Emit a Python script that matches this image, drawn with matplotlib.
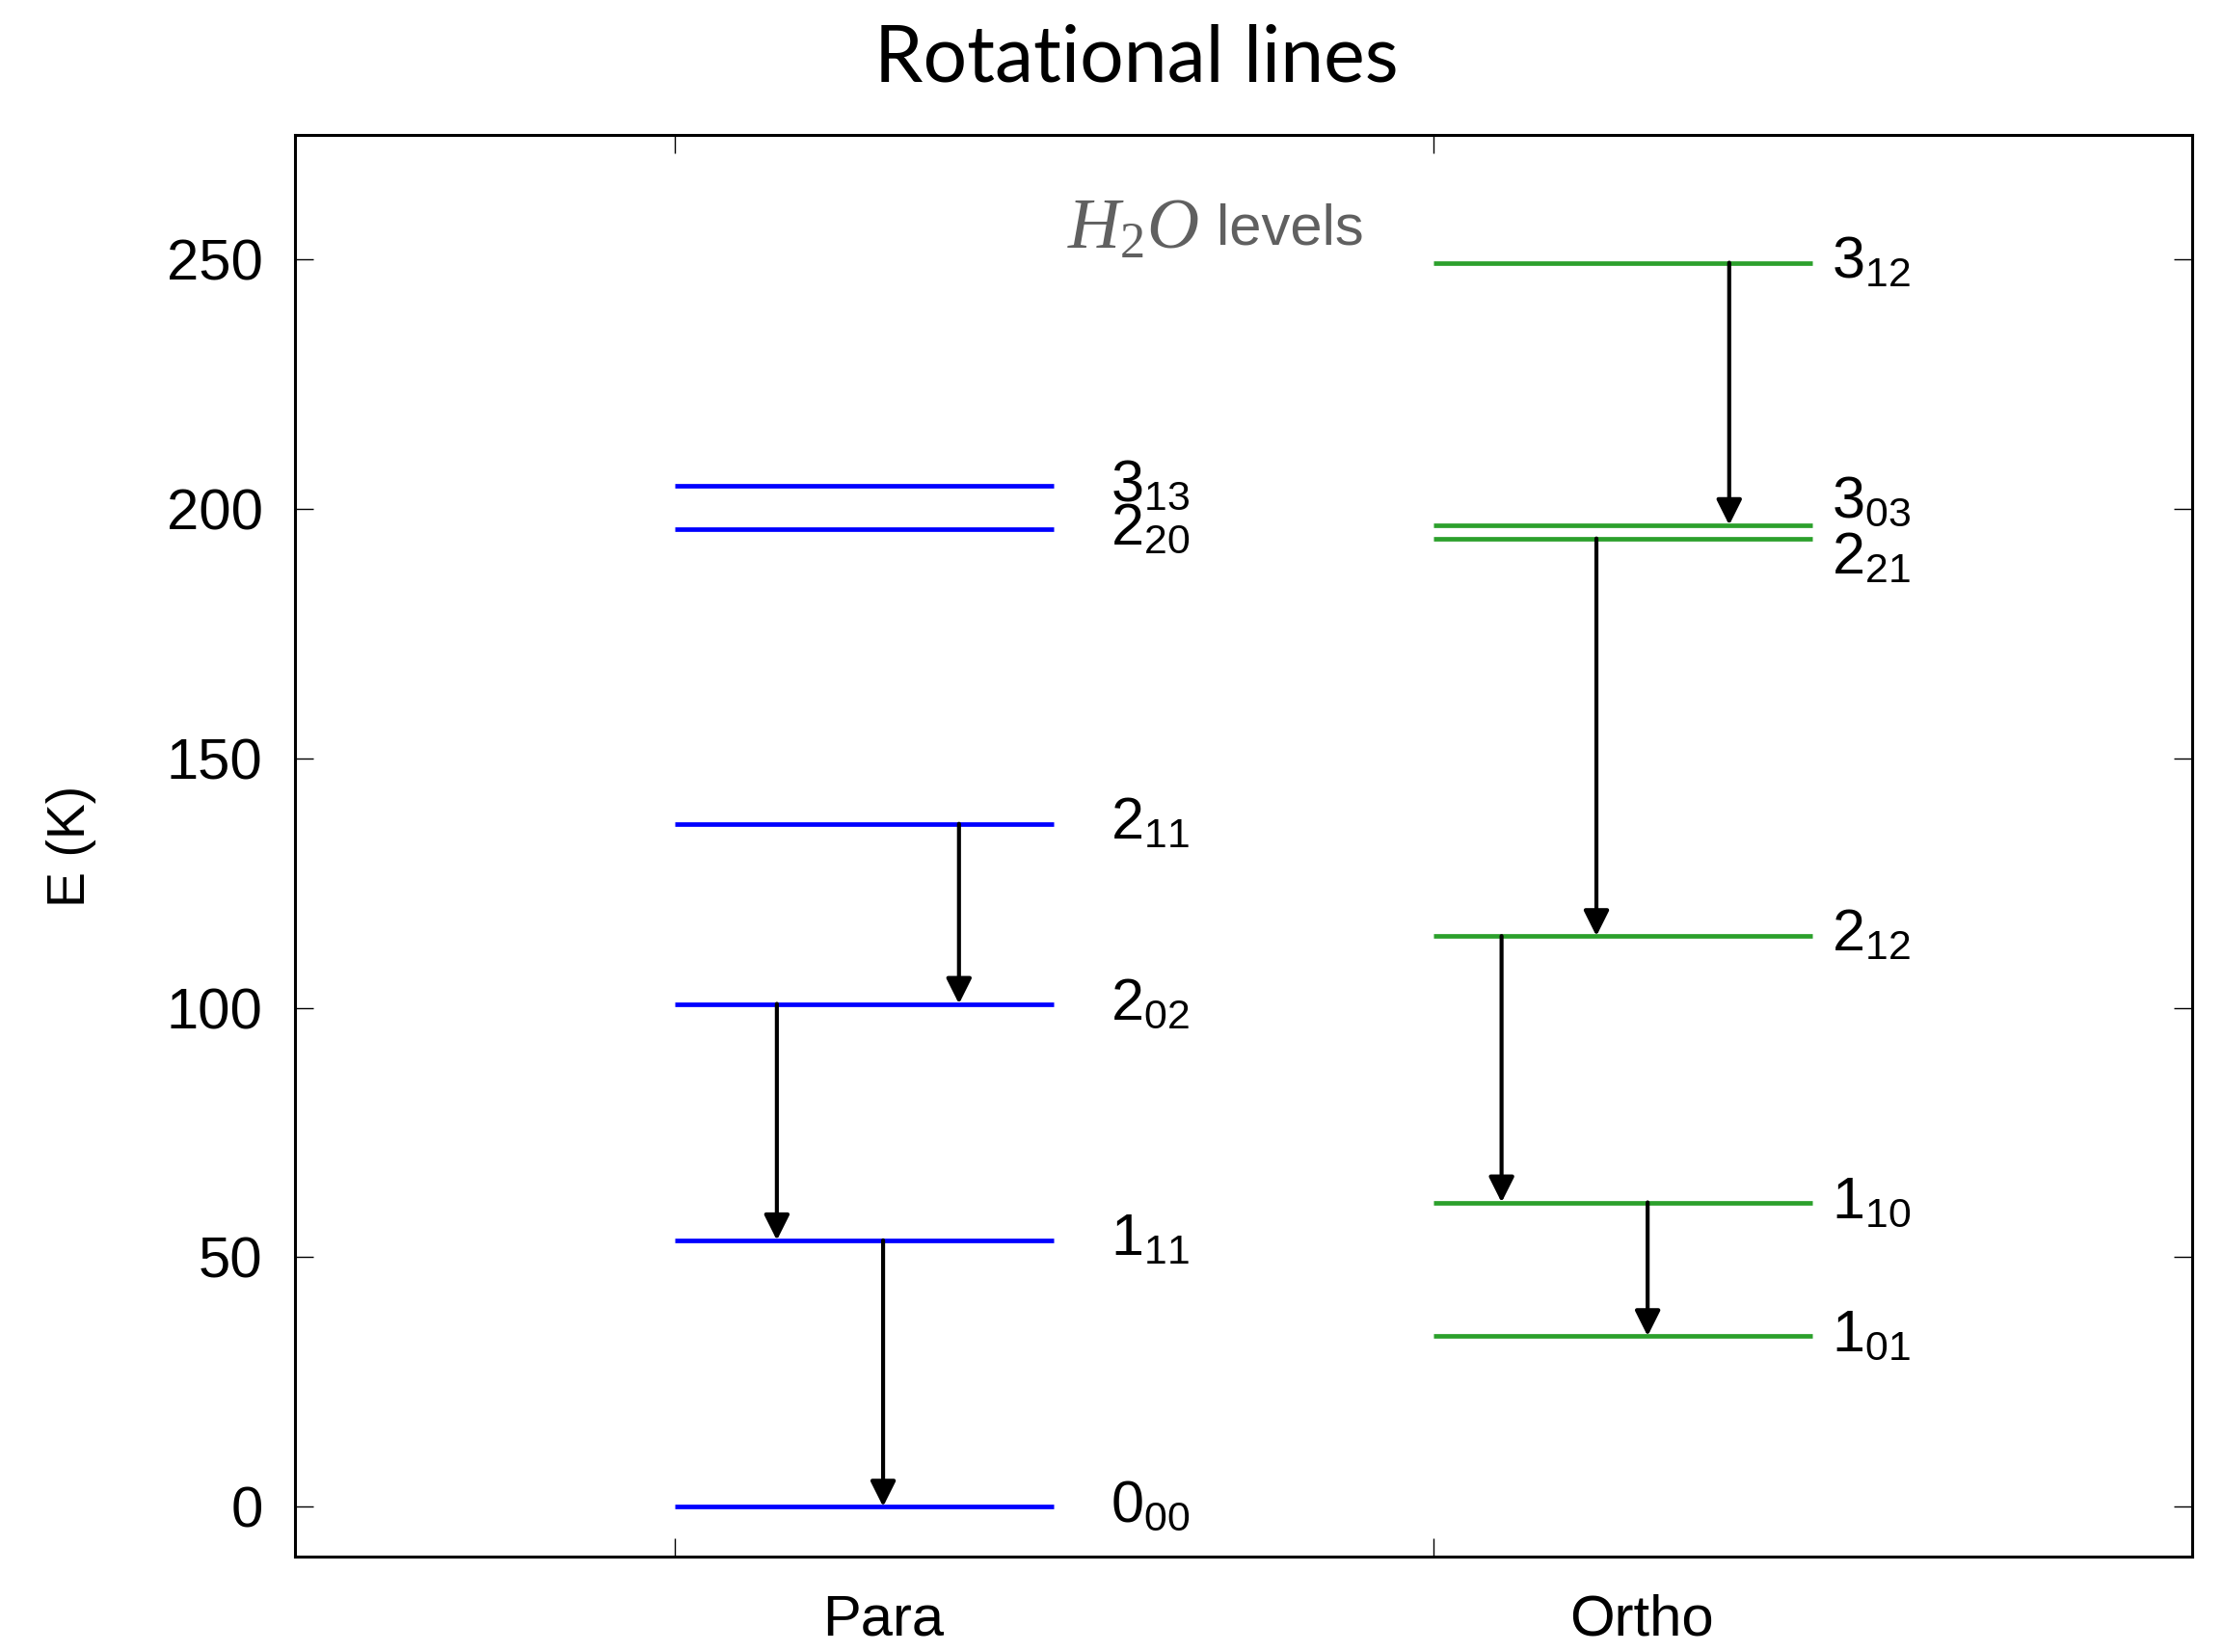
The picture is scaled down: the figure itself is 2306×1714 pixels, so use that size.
import matplotlib
matplotlib.use('Agg')
import matplotlib.pyplot as plt

plt.rcParams['font.family'] = ['Liberation Sans', 'DejaVu Sans']
plt.rcParams['mathtext.fontset'] = 'custom'
plt.rcParams['mathtext.rm'] = 'Liberation Serif'
plt.rcParams['mathtext.it'] = 'Liberation Serif:italic'
plt.rcParams['mathtext.sf'] = 'Liberation Sans'

# level energies (K)
para_labels = ['0_{00}', '1_{11}', '2_{02}', '2_{11}', '2_{20}', '3_{13}']
para_E = [0.0, 53.4, 100.8, 136.9, 195.9, 204.7]
para_label_E = [0.0, 53.4, 100.8, 136.9, 195.9, 204.7]

ortho_labels = ['1_{01}', '1_{10}', '2_{12}', '2_{21}', '3_{03}', '3_{12}']
ortho_E = [34.2, 61.0, 114.4, 194.1, 196.8, 249.4]
ortho_label_E = [34.2, 61.0, 114.4, 190.0, 201.5, 249.4]

# transitions: (x, E_upper, E_lower)
para_trans_x = [1.75, 1.27, 1.55]
para_trans_up = [136.9, 100.8, 53.4]
para_trans_lo = [100.8, 53.4, 0.0]

ortho_trans_x = [3.78, 3.43, 3.18, 3.565]
ortho_trans_up = [249.4, 194.1, 114.4, 61.0]
ortho_trans_lo = [196.8, 114.4, 61.0, 34.2]

fig = plt.figure(figsize=(11.53, 8.57), dpi=200)
ax = fig.add_axes([0.1327, 0.0578, 0.8534, 0.8605])

ax.hlines(para_E, 1, 2, color='#0000ff', lw=1.7)
ax.hlines(ortho_E, 3, 4, color='#2ca02c', lw=1.7)

for lab, e in zip(para_labels, para_label_E):
    ax.text(2.15, e, r'$\mathsf{%s}$' % lab, fontsize=22, ha='left', va='center')
for lab, e in zip(ortho_labels, ortho_label_E):
    ax.text(4.05, e, r'$\mathsf{%s}$' % lab, fontsize=22, ha='left', va='center')

arrow = dict(arrowstyle='-|>', color='black', lw=1.5, mutation_scale=20,
             shrinkA=0, shrinkB=0)
for x, up, lo in zip(para_trans_x + ortho_trans_x, para_trans_up + ortho_trans_up,
                     para_trans_lo + ortho_trans_lo):
    ax.annotate('', xy=(x, lo), xytext=(x, up), arrowprops=arrow)

ax.text(2.385, 256, r'$H_2O$', fontsize=27, color='#606060', ha='right', va='center')
ax.text(2.43, 256, 'levels', fontsize=21.5, color='#606060', ha='left', va='center')

ax.set_xlim(0, 5)
ax.set_ylim(-10, 275)
ax.set_xticks([1, 3])
ax.set_xticklabels([])
ax.set_xticks([1.55, 3.55], minor=True)
ax.set_xticklabels(['Para', 'Ortho'], minor=True)
ax.tick_params(axis='x', which='minor', length=0, labelsize=21.5, pad=14)
ax.set_yticks([0, 50, 100, 150, 200, 250])
ax.tick_params(which='major', direction='in', length=7, width=0.5, labelsize=21.5,
               pad=12, top=True, right=True)
for s in ax.spines.values():
    s.set_linewidth(1.1)
ax.set_ylabel('E (K)', fontsize=20, labelpad=26)

fig.text(0.511, 0.964, 'Rotational lines', fontsize=29, family='Lato',
         ha='center', va='center')

fig.savefig('out.png', dpi=200)
